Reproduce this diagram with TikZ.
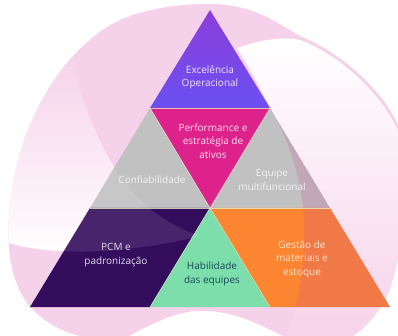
\documentclass[tikz,border=0pt]{standalone}
\usepackage{fontspec}
\setmainfont{Open Sans}
\definecolor{blobpink}{RGB}{246,210,234}
\definecolor{topA}{RGB}{140,62,218}
\definecolor{topB}{RGB}{106,80,242}
\definecolor{perfpink}{RGB}{222,34,140}
\definecolor{midgray}{RGB}{193,193,193}
\definecolor{pcmpurple}{RGB}{52,12,92}
\definecolor{habgreen}{RGB}{125,222,172}
\definecolor{gestorange}{RGB}{252,133,50}
\definecolor{lobetint}{RGB}{200,80,150}
\definecolor{edgeline}{RGB}{232,236,196}
\definecolor{txtTop}{RGB}{238,228,255}
\definecolor{txtPerf}{RGB}{255,225,240}
\definecolor{txtGray}{RGB}{242,242,242}
\definecolor{txtPcm}{RGB}{228,218,242}
\definecolor{txtHab}{RGB}{22,72,88}
\definecolor{txtGest}{RGB}{255,228,205}
\newcommand{\blobpath}{(210,4) .. controls (255,4) and (280,25) .. (300,36) .. controls (335,50) and (380,85) .. (398,125) .. controls (410,170) and (405,260) .. (385,300) .. controls (372,322) and (355,340) .. (330,345) .. controls (310,348) and (292,342) .. (283,336) .. controls (255,322) and (230,310) .. (200,311) .. controls (175,311) and (150,325) .. (125,338) .. controls (90,345) and (45,330) .. (25,300) .. controls (5,270) and (5,220) .. (15,175) .. controls (28,105) and (75,35) .. (130,16) .. controls (160,6) and (185,4) .. (210,4) -- cycle}
\newcommand{\lobepath}{(237,48) .. controls (260,40) and (282,36) .. (300,40) .. controls (340,55) and (385,95) .. (402,140) -- (402,345) -- (283,340) .. controls (300,310) and (307,250) .. (303,208) .. controls (299,170) and (287,138) .. (273,113) .. controls (262,92) and (250,68) .. (237,48) -- cycle}
\newcommand{\swooshpath}{(0,240) .. controls (40,256) and (120,256) .. (200,236) .. controls (140,215) and (100,170) .. (70,55) -- (0,55) -- cycle}
\begin{document}
\begin{tikzpicture}[x=1pt,y=-1pt,
  lbl/.style={align=center,font=\fontsize{10}{13.5}\selectfont,inner sep=0pt},
  gridline/.style={draw=edgeline,line width=0.5pt,opacity=0.8}]
\useasboundingbox (0,0) rectangle (398,336);
\fill[white] (0,0) rectangle (398,336);
% background blob
\fill[blobpink] \blobpath;
\begin{scope}
  \clip \blobpath;
  \shade[top color=blobpink,middle color=blobpink!75!white,bottom color=white] \swooshpath;
  \shade[top color=white,middle color=white!55!blobpink,bottom color=blobpink] \lobepath;
\end{scope}
% pyramid coordinates
\coordinate (A) at (210,10);
\coordinate (L1) at (150,108);
\coordinate (R1) at (270,108);
\coordinate (L2) at (90,208);
\coordinate (M2) at (210,208);
\coordinate (R2) at (330,208);
\coordinate (B0) at (30,307);
\coordinate (B1) at (150,307);
\coordinate (B2) at (270,307);
\coordinate (B3) at (390,307);
% pieces
\shade[top color=topA,bottom color=topB] (A) -- (R1) -- (L1) -- cycle;
\fill[perfpink] (L1) -- (R1) -- (M2) -- cycle;
\fill[midgray] (L1) -- (M2) -- (L2) -- cycle;
\fill[midgray] (R1) -- (R2) -- (M2) -- cycle;
\fill[pcmpurple] (L2) -- (M2) -- (B1) -- (B0) -- cycle;
\fill[habgreen] (M2) -- (B2) -- (B1) -- cycle;
\fill[gestorange] (M2) -- (R2) -- (B3) -- (B2) -- cycle;
% overlays of background shapes on the pyramid
\begin{scope}
  \clip (A) -- (B3) -- (B0) -- cycle;
  \fill[lobetint,opacity=0.22] \lobepath;
  \fill[white,opacity=0.1] \swooshpath;
\end{scope}
% thin separating lines
\draw[gridline] (L1) -- (R1);
\draw[gridline] (L1) -- (M2) -- (R1);
\draw[gridline] (L2) -- (R2);
\draw[gridline] (B1) -- (M2) -- (B2);
% labels
\node[lbl,text=txtTop] (exc) at (210,77.5) {Excelência\\Operacional};
\node[lbl,text=txtPerf] (perf) at (213,141) {Performance e\\estratégia de\\ativos};
\node[lbl,text=txtGray] (conf) at (152,180) {Confiabilidade};
\node[lbl,text=txtGray] (equip) at (272,180) {Equipe\\multifuncional};
\node[lbl,text=txtPcm] (pcm) at (116,255) {PCM e\\padronização};
\node[lbl,text=txtHab] (hab) at (212,274) {Habilidade\\das equipes};
\node[lbl,text=txtGest] (gest) at (302,259) {Gestão de\\materiais e\\estoque};
\end{tikzpicture}
\end{document}
